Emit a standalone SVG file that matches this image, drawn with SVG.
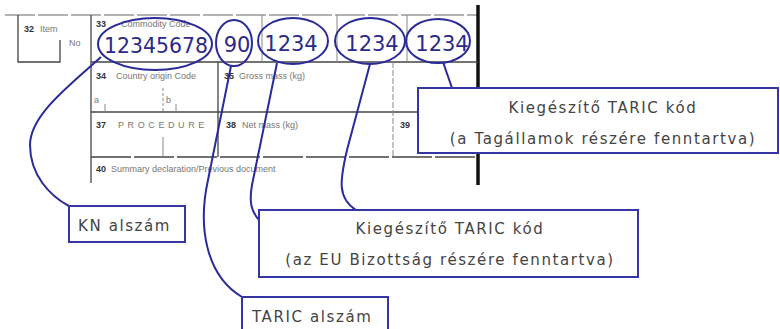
<svg xmlns="http://www.w3.org/2000/svg" width="780" height="329" viewBox="0 0 780 329">
<style>
.form{stroke:#444;stroke-width:1.3;fill:none}
.thin{stroke:#888;stroke-width:1;fill:none}
.ftxt{font-family:"Liberation Sans",Arial,sans-serif;font-size:9px;fill:#777}
.fnum{font-family:"Liberation Sans",Arial,sans-serif;font-size:9px;font-weight:bold;fill:#333}
.ell{stroke:#2a2a9a;stroke-width:2;fill:none}
.num{font-family:"DejaVu Sans",Verdana,sans-serif;font-size:21px;fill:#2a2a8a;text-anchor:middle}
.box{stroke:#3535a5;stroke-width:2;fill:#fff}
.lbl{font-family:"DejaVu Sans",Verdana,sans-serif;font-size:15px;fill:#444;letter-spacing:1.6px}
.conn{stroke:#2a2a9a;stroke-width:2;fill:none}
</style>
<rect width="780" height="329" fill="#fff"/>
<g id="form">
<line x1="5" y1="15" x2="478" y2="15" stroke="#999" stroke-width="1.5" stroke-dasharray="30,3"/>
<line x1="478" y1="5" x2="478" y2="185" stroke="#111" stroke-width="3.5"/>
<path class="form" d="M18 15 V62 H60 V40"/>
<line class="form" x1="91" y1="15" x2="91" y2="183"/>
<line class="form" x1="91" y1="62" x2="478" y2="62"/>
<line class="thin" x1="262" y1="15" x2="262" y2="62"/>
<line class="thin" x1="337" y1="15" x2="337" y2="62"/>
<line class="thin" x1="407" y1="15" x2="407" y2="62"/>
<line class="form" x1="218" y1="62" x2="218" y2="157"/>
<line class="form" x1="91" y1="112" x2="478" y2="112"/>
<line class="form" x1="91" y1="157" x2="478" y2="157" stroke-dasharray="40,3"/>
<line class="thin" x1="393" y1="62" x2="393" y2="157" stroke-dasharray="6,2"/>
<line class="thin" x1="163" y1="88" x2="163" y2="112" stroke-dasharray="3,2"/>
<line class="thin" x1="163" y1="137" x2="163" y2="157"/>
<line class="thin" x1="105" y1="104" x2="105" y2="112"/>
<line class="thin" x1="176" y1="104" x2="176" y2="112"/>
<text class="fnum" x="24" y="32">32</text>
<text class="ftxt" x="40" y="32">Item</text>
<text class="ftxt" x="69" y="46">No</text>
<text class="fnum" x="96" y="27">33</text>
<text class="ftxt" x="121" y="27">Commodity Code</text>
<text class="fnum" x="96" y="79">34</text>
<text class="ftxt" x="116" y="79">Country origin Code</text>
<text class="fnum" x="224" y="79">35</text>
<text class="ftxt" x="239" y="79">Gross mass (kg)</text>
<text class="ftxt" x="94" y="103">a</text>
<text class="ftxt" x="166" y="103">b</text>
<text class="fnum" x="96" y="128">37</text>
<text class="ftxt" x="118" y="128" letter-spacing="3.6">PROCEDURE</text>
<text class="fnum" x="226" y="128">38</text>
<text class="ftxt" x="242" y="128">Net mass (kg)</text>
<text class="fnum" x="400" y="128">39</text>
<text class="fnum" x="96" y="172">40</text>
<text class="ftxt" x="111" y="172">Summary declaration/Previous document</text>
</g>
<g id="codes">
<ellipse class="ell" cx="155" cy="44" rx="57" ry="26"/>
<text class="num" x="156" y="53" textLength="104" lengthAdjust="spacingAndGlyphs">12345678</text>
<ellipse class="ell" cx="234" cy="43" rx="18" ry="23"/>
<text class="num" x="237" y="52">90</text>
<ellipse class="ell" cx="293" cy="41" rx="35" ry="23"/>
<text class="num" x="291" y="51">1234</text>
<ellipse class="ell" cx="370" cy="41" rx="35" ry="23"/>
<text class="num" x="372" y="51">1234</text>
<ellipse class="ell" cx="438" cy="41" rx="32" ry="22"/>
<text class="num" x="442" y="51">1234</text>
</g>
<g id="connectors">
<path class="conn" d="M101 57 C70 85 30 115 30 145 C30 175 50 196 69 206"/>
<path class="conn" d="M231 66 L208 180 C198 225 205 275 242 297"/>
<path class="conn" d="M277 63 L252 185 C249 202 251 212 260 221"/>
<path class="conn" d="M370 64 L347 150 C340 180 337 198 356 210"/>
<path class="conn" d="M443 62 L452 88"/>
</g>
<g id="box-member">
<rect class="box" x="418" y="88" width="360" height="65"/>
<text class="lbl" x="603" y="113" text-anchor="middle">Kiegészítő TARIC kód</text>
<text class="lbl" x="603" y="144" text-anchor="middle">(a Tagállamok részére fenntartva)</text>
</g>
<g id="box-eu">
<rect class="box" x="259" y="210" width="379" height="67"/>
<text class="lbl" x="450" y="234" text-anchor="middle">Kiegészítő TARIC kód</text>
<text class="lbl" x="450" y="265" text-anchor="middle">(az EU Bizottság részére fenntartva)</text>
</g>
<g id="box-kn">
<rect class="box" x="69" y="206" width="116" height="36"/>
<text class="lbl" x="78" y="231">KN alszám</text>
</g>
<g id="box-taric">
<rect class="box" x="242" y="297" width="146" height="40"/>
<text class="lbl" x="252" y="322">TARIC alszám</text>
</g>
</svg>
